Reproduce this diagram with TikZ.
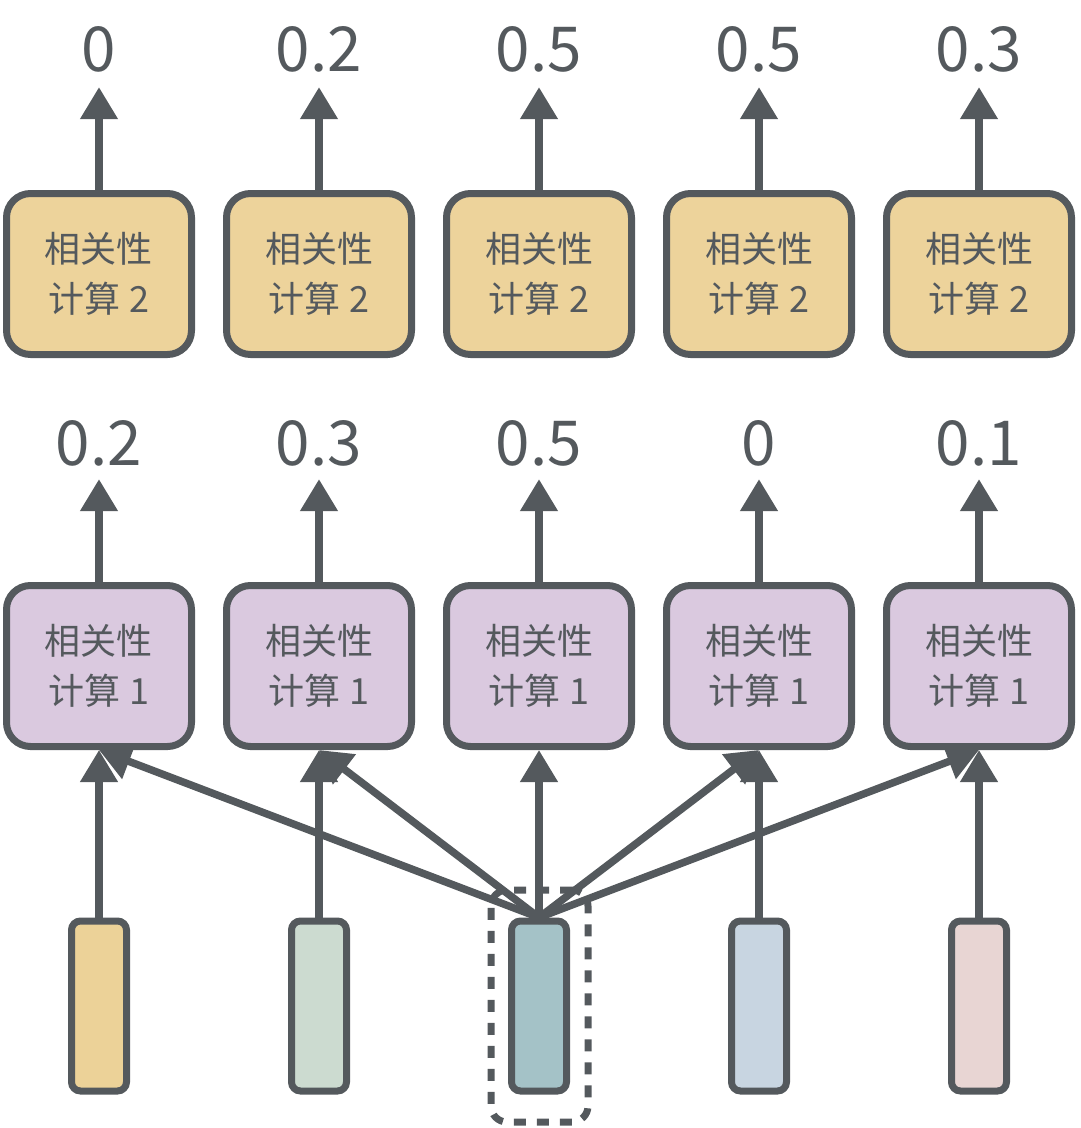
\documentclass[tikz,border=0pt]{standalone}
\usepackage{fontspec}
\setmainfont{Noto Sans CJK SC}
\usetikzlibrary{arrows.meta}
\definecolor{ink}{HTML}{54595D}
\definecolor{tanfill}{HTML}{EDD39B}
\definecolor{lilac}{HTML}{DAC9DF}
\definecolor{vA}{HTML}{ECD298}
\definecolor{vB}{HTML}{CCDBD0}
\definecolor{vC}{HTML}{A4C2C7}
\definecolor{vD}{HTML}{C8D5E1}
\definecolor{vE}{HTML}{E8D5D3}
\begin{document}
\begin{tikzpicture}[x=1pt,y=-1pt,
  calcbox/.style={draw=ink, line width=7pt, rounded corners=24pt,
    minimum width=185pt, minimum height=161pt, inner sep=0pt,
    align=center, font=\fontsize{36}{50}\selectfont, text=ink},
  vecbox/.style={draw=ink, line width=7pt, rounded corners=9pt,
    minimum width=55pt, minimum height=170pt, inner sep=0pt},
  val/.style={font=\fontsize{62}{64}\selectfont, text=ink, inner sep=0pt},
  arr/.style={draw=ink, line width=7.5pt, -{Triangle[length=32pt,width=36pt]}},
  selbox/.style={draw=ink, line width=7pt, dash pattern=on 12pt off 11pt,
    rounded corners=16pt, minimum width=97pt, minimum height=232pt, inner sep=0pt},
]
\useasboundingbox (0,0) rectangle (1080,1128);

% selection (dashed)
\node[selbox] (sel) at (539.5,1006) {};

% input vectors
\node[vecbox, fill=vA] (v1) at (99,1006) {};
\node[vecbox, fill=vB] (v2) at (319,1006) {};
\node[vecbox, fill=vC] (v3) at (539,1006) {};
\node[vecbox, fill=vD] (v4) at (759,1006) {};
\node[vecbox, fill=vE] (v5) at (979,1006) {};

% relevance 1 boxes
\node[calcbox, fill=lilac] (p1) at (99,666) {相关性\\计算 1};
\node[calcbox, fill=lilac] (p2) at (319,666) {相关性\\计算 1};
\node[calcbox, fill=lilac] (p3) at (539,666) {相关性\\计算 1};
\node[calcbox, fill=lilac] (p4) at (759,666) {相关性\\计算 1};
\node[calcbox, fill=lilac] (p5) at (979,666) {相关性\\计算 1};

% relevance 2 boxes
\node[calcbox, fill=tanfill] (q1) at (99,274) {相关性\\计算 2};
\node[calcbox, fill=tanfill] (q2) at (319,274) {相关性\\计算 2};
\node[calcbox, fill=tanfill] (q3) at (539,274) {相关性\\计算 2};
\node[calcbox, fill=tanfill] (q4) at (759,274) {相关性\\计算 2};
\node[calcbox, fill=tanfill] (q5) at (979,274) {相关性\\计算 2};

% values row 1
\node[val] (a1) at (99,443) {0.2};
\node[val] (a2) at (319,443) {0.3};
\node[val] (a3) at (539,443) {0.5};
\node[val] (a4) at (759,443) {0};
\node[val] (a5) at (979,443) {0.1};

% values row 2
\node[val] (c1) at (99,49) {0};
\node[val] (c2) at (319,49) {0.2};
\node[val] (c3) at (539,49) {0.5};
\node[val] (c4) at (759,49) {0.5};
\node[val] (c5) at (979,49) {0.3};

% arrows
\foreach \i in {1,...,5}{
  \draw[arr] (v\i.north) -- (p\i.south);
  \draw[arr, shorten >=13pt] (p\i.north) -- (p\i.north |- a\i.south);
  \draw[arr, shorten >=15pt] (q\i.north) -- (q\i.north |- c\i.south);
}
\foreach \i in {1,2,4,5}{
  \draw[arr] (v3.north) -- (p\i.south);
}
\end{tikzpicture}
\end{document}
